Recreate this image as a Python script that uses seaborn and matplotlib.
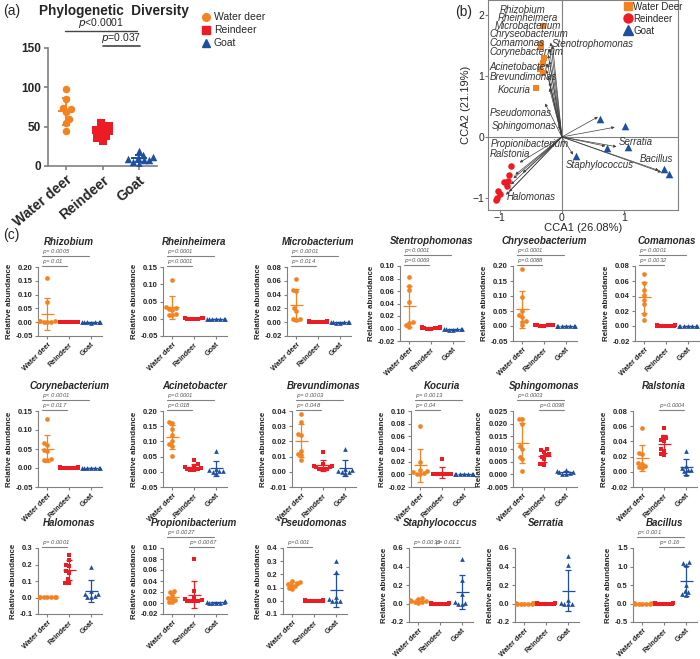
import matplotlib
matplotlib.use("Agg")
import matplotlib.pyplot as plt
from matplotlib.lines import Line2D
import numpy as np
import pandas as pd
import seaborn as sns

sns.set_style("ticks")
plt.rcParams["font.family"] = ["Liberation Sans", "DejaVu Sans"]

groups = ["Water deer", "Reindeer", "Goat"]
colors = ["#F58220", "#ED1C24", "#1F4FA0"]
markers = ["o", "s", "^"]
GRAY = "#808080"

# (a) phylogenetic diversity
pd_water_deer = [97, 85, 74, 72, 68, 60, 54, 44]
pd_reindeer = [54, 51, 48, 46, 44, 42, 38, 35, 32]
pd_goat = [19, 14, 11, 10, 9, 8, 7, 5, 3]

# (b) CCA sample scores
cca_wd_x = [-0.31, -0.34, -0.33, -0.29, -0.31, -0.31, -0.36, -0.42]
cca_wd_y = [1.82, 1.52, 1.47, 1.29, 1.21, 1.05, 1.12, 0.81]
cca_rd_x = [-0.82, -0.85, -0.93, -0.87, -0.89, -1.03, -1.00, -1.04, -1.06]
cca_rd_y = [-0.48, -0.63, -0.74, -0.72, -0.80, -0.88, -0.94, -1.00, -1.03]
cca_gt_x = [0.61, 1.01, 0.72, 1.07, 0.22, 1.65, 1.73]
cca_gt_y = [0.30, 0.18, -0.18, -0.17, -0.31, -0.52, -0.61]

# (b) species arrows
species = ["Rhizobium", "Rheinheimera", "Microbacterium", "Chryseobacterium",
           "Comamonas", "Stenotrophomonas", "Corynebacterium", "Acinetobacter",
           "Brevundimonas", "Kocuria", "Pseudomonas", "Sphingomonas",
           "Propionibacterium", "Ralstonia", "Halomonas", "Serratia",
           "Bacillus", "Staphylococcus"]
arrow_x = [-0.18, -0.20, -0.22, -0.20, -0.23, -0.15, -0.25, -0.22, -0.20, -0.20,
           -0.27, -0.05, -0.68, -0.63, -0.85, 0.88, 1.60, 0.18]
arrow_y = [1.55, 1.45, 1.35, 1.25, 1.20, 1.50, 1.10, 1.00, 0.90, 0.80,
           0.55, 0.20, -0.42, -0.59, -0.90, -0.16, -0.58, -0.29]
extra_arrow_x = [0.85, 0.58, 0.70, 1.56, -0.78, -0.82, -0.90, -0.75]
extra_arrow_y = [0.16, 0.33, -0.15, -0.55, -0.68, -0.78, -0.95, -0.62]
label_x = [-1.00, -1.03, -1.08, -1.17, -1.17, -0.16, -1.17, -1.17, -1.17, -1.03,
           -1.17, -1.13, -1.15, -1.17, -0.89, 0.92, 1.26, 0.06]
label_y = [2.09, 1.95, 1.82, 1.69, 1.55, 1.53, 1.40, 1.15, 0.98, 0.77,
           0.39, 0.18, -0.12, -0.28, -0.99, -0.09, -0.37, -0.46]

# (c) relative abundance per genus: [water deer, reindeer, goat]
rhizobium = [[0.16, 0.075, 0.005, 0.003, 0.002, 0.001, 0.004, 0.001],
             [0.001, 0.002, 0.001, 0.000, 0.001, 0.002, 0.001, 0.000, 0.001],
             [-0.001, 0.000, -0.002, 0.000, -0.001, 0.000, -0.001]]
rheinheimera = [[0.113, 0.035, 0.030, 0.028, 0.025, 0.015, 0.010, 0.012],
                [0.001, 0.000, 0.001, 0.000, 0.001, 0.000, 0.001, 0.000, 0.001],
                [0.000, -0.001, 0.000, 0.000, -0.001, 0.000, 0.000]]
microbacterium = [[0.062, 0.046, 0.045, 0.020, 0.016, 0.005, 0.003, 0.004],
                  [0.001, 0.002, 0.001, 0.000, 0.001, 0.002, 0.001, 0.000, 0.001],
                  [0.000, -0.001, 0.000, 0.000, -0.001, 0.000, 0.000]]
stentrophomonas = [[0.083, 0.068, 0.062, 0.043, 0.010, 0.009, 0.006, 0.003],
                   [0.001, 0.002, 0.001, 0.000, 0.001, 0.002, 0.001, 0.000, 0.001],
                   [-0.001, -0.002, -0.001, 0.000, -0.001, -0.002, -0.001]]
chryseobacterium = [[0.190, 0.098, 0.037, 0.030, 0.018, 0.015, 0.003, 0.050],
                    [0.002, 0.003, 0.002, 0.001, 0.002, 0.003, 0.002, 0.001, 0.002],
                    [0.000, 0.001, 0.000, 0.000, 0.001, 0.000, 0.000]]
comamonas = [[0.070, 0.058, 0.048, 0.042, 0.035, 0.030, 0.016, 0.008],
             [0.000, 0.001, 0.000, 0.000, 0.001, 0.000, 0.000, 0.001, 0.000],
             [0.000, 0.000, 0.000, 0.000, 0.000, 0.000, 0.000]]
corynebacterium = [[0.128, 0.065, 0.060, 0.047, 0.045, 0.025, 0.020, 0.020],
                   [0.001, 0.002, 0.001, 0.000, 0.001, 0.002, 0.001, 0.000, 0.001],
                   [0.000, -0.001, 0.000, 0.000, -0.001, 0.000, 0.000]]
acinetobacter = [[0.165, 0.160, 0.140, 0.120, 0.100, 0.090, 0.085, 0.052],
                 [0.038, 0.025, 0.020, 0.015, 0.012, 0.010, 0.008, 0.006, 0.005],
                 [0.067, 0.010, 0.005, 0.000, -0.005, 0.002, 0.003]]
brevundimonas = [[0.038, 0.033, 0.025, 0.024, 0.014, 0.012, 0.011, 0.0075],
                 [0.013, 0.005, 0.004, 0.004, 0.003, 0.003, 0.002, 0.002, 0.002],
                 [0.015, 0.002, 0.001, 0.0005, 0.000, 0.000, -0.001]]
kocuria = [[0.077, 0.020, 0.007, 0.005, 0.003, 0.002, 0.001, 0.000],
           [0.024, 0.000, 0.000, 0.001, 0.000, 0.000, 0.001, 0.000, 0.000],
           [0.000, 0.000, 0.000, 0.000, 0.000, 0.000, 0.000]]
sphingomonas = [[0.022, 0.022, 0.020, 0.011, 0.010, 0.007, 0.006, 0.0015],
                [0.010, 0.0095, 0.009, 0.008, 0.0075, 0.007, 0.006, 0.004, 0.0038],
                [0.0018, 0.0012, 0.0010, 0.0008, 0.0005, 0.0003, 0.0002]]
ralstonia = [[0.057, 0.025, 0.024, 0.012, 0.010, 0.008, 0.006, 0.005],
             [0.058, 0.046, 0.044, 0.042, 0.040, 0.030, 0.028, 0.024, 0.022],
             [0.028, 0.008, 0.005, 0.003, 0.002, 0.001, -0.003]]
halomonas = [[0.002, 0.003, 0.002, 0.001, 0.002, 0.003, 0.002, 0.001],
             [0.26, 0.23, 0.20, 0.19, 0.16, 0.15, 0.11, 0.09, 0.09],
             [0.185, 0.040, 0.020, 0.010, 0.005, 0.003, 0.020]]
propionibacterium = [[0.022, 0.020, 0.015, 0.010, 0.008, 0.005, 0.002, 0.001],
                     [0.080, 0.021, 0.010, 0.008, 0.005, 0.004, 0.004, 0.003, 0.003],
                     [0.004, 0.002, 0.001, 0.0005, 0.0002, 0.0001, 0.000]]
pseudomonas = [[0.150, 0.140, 0.135, 0.130, 0.120, 0.110, 0.100, 0.090],
               [0.002, 0.003, 0.002, 0.001, 0.002, 0.003, 0.002, 0.001, 0.002],
               [0.300, 0.220, 0.030, 0.010, 0.000, -0.005, 0.000]]
staphylococcus = [[0.060, 0.050, 0.040, 0.030, 0.025, 0.020, 0.015, 0.010],
                  [0.000, 0.001, 0.000, 0.000, 0.001, 0.000, 0.000, 0.001, 0.000],
                  [0.480, 0.250, 0.100, 0.020, 0.010, 0.000, -0.010]]
serratia = [[0.000, 0.001, 0.000, 0.000, 0.001, 0.000, 0.000, 0.001],
            [0.000, 0.001, 0.000, 0.000, 0.001, 0.000, 0.000, 0.001, 0.000],
            [0.510, 0.420, 0.040, 0.010, 0.000, -0.010, 0.000]]
bacillus = [[0.000, 0.001, 0.000, 0.000, 0.001, 0.000, 0.000, 0.001],
            [0.000, 0.001, 0.000, 0.000, 0.001, 0.000, 0.000, 0.001, 0.000],
            [1.12, 1.10, 1.05, 0.50, 0.30, 0.25, 0.22, 0.35]]

genus_names = ["Rhizobium", "Rheinheimera", "Microbacterium", "Stentrophomonas",
               "Chryseobacterium", "Comamonas", "Corynebacterium", "Acinetobacter",
               "Brevundimonas", "Kocuria", "Sphingomonas", "Ralstonia",
               "Halomonas", "Propionibacterium", "Pseudomonas", "Staphylococcus",
               "Serratia", "Bacillus"]
genus_values = [rhizobium, rheinheimera, microbacterium, stentrophomonas,
                chryseobacterium, comamonas, corynebacterium, acinetobacter,
                brevundimonas, kocuria, sphingomonas, ralstonia,
                halomonas, propionibacterium, pseudomonas, staphylococcus,
                serratia, bacillus]
# y axis: (min, max, step, decimals)
genus_yaxis = [(-0.05, 0.20, 0.05, 2), (-0.05, 0.15, 0.05, 2), (-0.02, 0.08, 0.02, 2),
               (-0.02, 0.10, 0.02, 2), (-0.05, 0.20, 0.05, 2), (-0.02, 0.08, 0.02, 2),
               (-0.05, 0.15, 0.05, 2), (-0.05, 0.20, 0.05, 2), (-0.01, 0.04, 0.01, 2),
               (-0.02, 0.10, 0.02, 2), (-0.005, 0.025, 0.005, 3), (-0.02, 0.08, 0.02, 2),
               (-0.1, 0.3, 0.1, 1), (-0.02, 0.10, 0.02, 2), (-0.1, 0.4, 0.1, 1),
               (-0.2, 0.6, 0.2, 1), (-0.2, 0.6, 0.2, 1), (-0.5, 1.5, 0.5, 1)]
# significance bars: (from group, to group, level, text)
genus_pvals = [
    [(0, 2, 1, "$p$= 0.0005"), (0, 1, 0, "$p$= 0.01")],
    [(0, 2, 1, "$p$=0.0001"), (0, 1, 0, "$p$<0.0001")],
    [(0, 2, 1, "$p$< 0.0001"), (0, 1, 0, "$p$= 0.014")],
    [(0, 2, 1, "$p$<0.0001"), (0, 1, 0, "$p$=0.0069")],
    [(0, 2, 1, "$p$<0.0001"), (0, 1, 0, "$p$=0.0088")],
    [(0, 2, 1, "$p$= 0.0001"), (0, 1, 0, "$p$= 0.0032")],
    [(0, 2, 1, "$p$< 0.0001"), (0, 1, 0, "$p$= 0.017")],
    [(0, 2, 1, "$p$=0.0001"), (0, 1, 0, "$p$=0.018")],
    [(0, 2, 1, "$p$= 0.0003"), (0, 1, 0, "$p$= 0.048")],
    [(0, 2, 1, "$p$= 0.0013"), (0, 1, 0, "$p$= 0.04")],
    [(0, 2, 1, "$p$=0.0003"), (1, 2, 0, "$p$=0.0098")],
    [(1, 2, 0, "$p$=0.0004")],
    [(0, 1, 0, "$p$= 0.0001")],
    [(0, 2, 1, "$p$= 0.0027"), (1, 2, 0, "$p$= 0.0067")],
    [(0, 1, 0, "$p$=0.001")],
    [(0, 1, 0, "$p$= 0.0033"), (1, 2, 0, "$p$= 0.011")],
    [],
    [(0, 2, 1, "$p$< 0.001"), (1, 2, 0, "$p$= 0.16")],
]

# axes boxes in pixels: left, (top, bottom)
col_left = [[38, 163, 287, 400, 513, 635],
            [38, 163, 292, 411, 513, 633],
            [38, 163, 283, 409, 515, 633]]
row_top_bottom = [[(267, 336)] * 3 + [(266, 341)] * 3,
                  [(411, 487)] * 6,
                  [(548, 614)] * 3 + [(548, 622)] * 3]

W, H = 700, 659


def px_rect(left, top, right, bottom):
    return [left / W, 1 - bottom / H, (right - left) / W, (bottom - top) / H]


def long_df(series):
    rows = []
    for g, vals in zip(groups, series):
        for v in vals:
            rows.append((g, v))
    return pd.DataFrame(rows, columns=["group", "value"])


def draw_swarm(ax, df, size):
    for i, g in enumerate(groups):
        sns.swarmplot(data=df[df["group"] == g], x="group", y="value", order=groups,
                      color=colors[i], marker=markers[i], size=size, linewidth=0,
                      warn_thresh=1, ax=ax, zorder=3)


def draw_mean_sd(ax, df, lw, half, cap):
    stats = df.groupby("group", sort=False)["value"].agg(["mean", "std"])
    for i, g in enumerate(groups):
        m, s = stats.loc[g, "mean"], stats.loc[g, "std"]
        ax.errorbar(i, m, yerr=s, color=colors[i], lw=lw, capsize=cap,
                    capthick=lw, zorder=5)
        ax.hlines(m, i - half, i + half, color=colors[i], lw=lw, zorder=5)


def style_axes(ax, lw):
    sns.despine(ax=ax)
    for sp in ["left", "bottom"]:
        ax.spines[sp].set_color(GRAY)
        ax.spines[sp].set_linewidth(lw)
    ax.tick_params(color=GRAY, width=lw)


fig = plt.figure(figsize=(W / 100, H / 100), dpi=100)
marker_grow = {}

# ---- (a) ----
ax_a = fig.add_axes(px_rect(48, 47.7, 157, 166))
df_a = long_df([pd_water_deer, pd_reindeer, pd_goat])
draw_swarm(ax_a, df_a, 4.0)
marker_grow[ax_a] = 1.35
draw_mean_sd(ax_a, df_a, 1.4, 0.22, 3)
ax_a.set_xlim(-0.5, 2.5)
ax_a.set_ylim(0, 150)
ax_a.set_yticks([0, 50, 100, 150])
ax_a.set_xlabel("")
ax_a.set_ylabel("")
style_axes(ax_a, 1.2)
ax_a.tick_params(axis="both", length=3, labelsize=8.5, pad=2)
for lab in ax_a.get_yticklabels():
    lab.set_fontweight("bold")
ax_a.set_xticks(range(3))
ax_a.set_xticklabels(groups, rotation=40, ha="right", rotation_mode="anchor",
                     fontweight="bold", fontsize=10)
tr = ax_a.get_xaxis_transform()
ax_a.plot([-0.03, 1.95], [1.14, 1.14], transform=tr, color="#444", lw=1, clip_on=False)
ax_a.text(0.96, 1.15, "$p$<0.0001", transform=tr, ha="center", va="bottom", fontsize=7.5)
ax_a.plot([1.0, 2.03], [1.015, 1.015], transform=tr, color="#444", lw=1.2, clip_on=False)
ax_a.text(1.5, 1.025, "$p$=0.037", transform=tr, ha="center", va="bottom", fontsize=7.5)
fig.text(114 / W, 1 - 11 / H, "Phylogenetic  Diversity", ha="center", va="center",
         fontsize=9.8, fontweight="bold")
handles_a = [Line2D([], [], ls="", marker=m, color=c, markersize=5.5)
             for m, c in zip(markers, colors)]
fig.legend(handles_a, groups, loc="upper left", bbox_to_anchor=(197 / W, 1 - 8 / H),
           frameon=False, fontsize=7.5, handletextpad=0.2, labelspacing=0.3,
           handlelength=1, borderaxespad=0)
fig.text(3 / W, 1 - 11 / H, "(a)", fontsize=10, va="center")

# ---- (b) ----
ax_b = fig.add_axes(px_rect(488, 0, 678, 210))
ax_b.axhline(0, color=GRAY, lw=0.8, zorder=1)
ax_b.axvline(0, color=GRAY, lw=0.8, zorder=1)
for ex, ey in zip(arrow_x + extra_arrow_x, arrow_y + extra_arrow_y):
    ax_b.annotate("", xy=(ex, ey), xytext=(0, 0),
                  arrowprops=dict(arrowstyle="-|>", lw=0.5, color="#404040",
                                  mutation_scale=4, shrinkA=0, shrinkB=0), zorder=2)
for name, lx, ly in zip(species, label_x, label_y):
    ax_b.text(lx, ly, name, fontsize=7.0, fontstyle="italic", color="#333333",
              ha="left", va="center", zorder=4)
sns.scatterplot(x=cca_wd_x, y=cca_wd_y, marker="s", color=colors[0], s=22,
                linewidth=0, ax=ax_b, zorder=3)
sns.scatterplot(x=cca_rd_x, y=cca_rd_y, marker="o", color=colors[1], s=22,
                linewidth=0, ax=ax_b, zorder=3)
sns.scatterplot(x=cca_gt_x, y=cca_gt_y, marker="^", color=colors[2], s=30,
                linewidth=0, ax=ax_b, zorder=3)
ax_b.set_xlim(-1.19, 1.87)
ax_b.set_ylim(-1.2, 2.25)
ax_b.set_xticks([-1, 0, 1])
ax_b.set_yticks([-1, 0, 1, 2])
for sp in ax_b.spines.values():
    sp.set_color(GRAY)
    sp.set_linewidth(0.8)
ax_b.tick_params(labelsize=7.5, length=2, pad=0.5, color=GRAY)
ax_b.set_xlabel("CCA1 (26.08%)", fontsize=8, labelpad=0)
ax_b.set_ylabel("CCA2 (21.19%)", fontsize=8, labelpad=1)
handles_b = [Line2D([], [], ls="", marker=m, color=c, markersize=m_s)
             for m, c, m_s in zip(["s", "o", "^"], colors, [6, 6.5, 7])]
ax_b.legend(handles_b, ["Water Deer", "Reindeer", "Goat"], loc="upper right",
            bbox_to_anchor=(1.045, 1.01), frameon=False, fontsize=7,
            handletextpad=0.0, labelspacing=0.2, handlelength=1, borderaxespad=0)
fig.text(455 / W, 1 - 12 / H, "(b)", fontsize=10, va="center")

# ---- (c) ----
fig.text(3 / W, 1 - 235 / H, "(c)", fontsize=10, va="center")
for k, (name, vals, yax, pv) in enumerate(zip(genus_names, genus_values,
                                                genus_yaxis, genus_pvals)):
    r, c = divmod(k, 6)
    left = col_left[r][c]
    top, bottom = row_top_bottom[r][c]
    hpx = bottom - top
    ax = fig.add_axes(px_rect(left, top, left + 64, bottom))
    df = long_df(vals)
    draw_swarm(ax, df, 2.6)
    marker_grow[ax] = 1.3
    draw_mean_sd(ax, df, 0.9, 0.3, 2)
    ymin, ymax, step, dec = yax
    ax.set_xlim(-0.43, 2.5)
    ax.set_ylim(ymin, ymax)
    ticks = np.arange(ymin, ymax + step / 2, step)
    ax.set_yticks(ticks)
    ax.set_yticklabels([f"{t:.{dec}f}" for t in ticks], fontweight="bold", fontsize=5.5)
    ax.set_xticks(range(3))
    ax.set_xticklabels(groups, rotation=45, ha="right", rotation_mode="anchor",
                       fontsize=5.2, fontweight="bold")
    ax.set_xlabel("")
    ax.set_ylabel("Relative abundance", fontsize=5.8, labelpad=2, fontweight="bold")
    style_axes(ax, 0.8)
    ax.tick_params(axis="both", length=2.5, pad=1.2)
    tr = ax.get_xaxis_transform()
    for i, j, lev, txt in pv:
        yl = 1 + (1 + 10 * lev) / hpx
        ax.plot([i - 0.25, j - 0.1], [yl, yl], transform=tr, color=GRAY, lw=0.8,
                clip_on=False)
        ax.text(i - 0.25, yl + 0.004, txt, transform=tr, ha="left", va="bottom",
                fontsize=4.2, color="#555555", fontstyle="italic")
    ax.text(1, 1 + 25 / hpx, name, transform=tr, ha="center", va="center",
            fontsize=7, fontweight="bold", fontstyle="italic")

# lay out the swarms with small markers, then freeze them and show larger markers
fig.canvas.draw()
for ax, grow in marker_grow.items():
    for coll in ax.collections:
        if "draw" in vars(coll):
            del coll.draw
            coll.set_sizes(coll.get_sizes() * grow ** 2)

fig.savefig("out.png", dpi=100)
